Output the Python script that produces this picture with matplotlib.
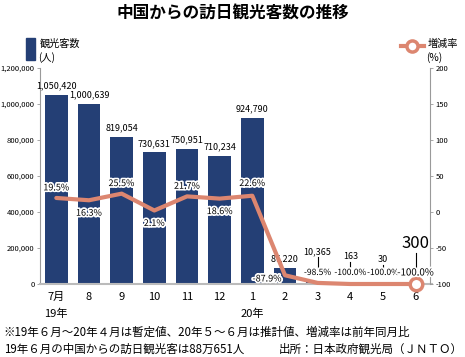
import matplotlib.pyplot as plt
from matplotlib import patheffects as pe

plt.rcParams['font.family'] = ['Noto Sans CJK JP', 'DejaVu Sans']

# データ
months = ['7月', '8', '9', '10', '11', '12', '1', '2', '3', '4', '5', '6']
visitors = [1050420, 1000639, 819054, 730631, 750951, 710234, 924790, 87220, 10365, 163, 30, 300]
rate = [19.5, 16.3, 25.5, 2.1, 21.7, 18.6, 22.6, -87.9, -98.5, -100.0, -100.0, -100.0]
rate_labels = ['19.5%', '16.3%', '25.5%', '2.1%', '21.7%', '18.6%', '22.6%',
               '-87.9%', '-98.5%', '-100.0%', '-100.0%', '-100.0%']
left_ticks = [0, 200000, 400000, 600000, 800000, 1000000, 1200000]
right_ticks = [-100, -50, 0, 50, 100, 150, 200]

navy = '#243f75'
salmon = '#dc8670'
gray = '#9a9a9a'
narrow = ['Liberation Sans Narrow', 'Noto Sans CJK JP', 'DejaVu Sans']

fig = plt.figure(figsize=(4.65, 3.57), dpi=100)
ax = fig.add_axes([0.086, 0.2045, 0.843, 0.605])
ax2 = ax.twinx()
ax2.spines['right'].set_position(('axes', 0.995))

x = list(range(len(months)))
ax.bar(x, visitors, width=0.7, color=navy, zorder=2)
ax.set_xlim(-0.5, 11.5)
ax.set_ylim(0, 1200000)
ax.set_yticks(left_ticks)
ax.set_yticklabels([f'{v:,}' for v in left_ticks], fontsize=5.5, family=narrow)
ax.set_xticks(x)
ax.set_xticklabels(months, fontsize=8)
ax.tick_params(axis='x', length=0, pad=6)
ax.tick_params(axis='y', length=2, width=0.6, color=gray, pad=2)
for s in ['top', 'right']:
    ax.spines[s].set_visible(False)
ax.spines['left'].set_color(gray)
ax.spines['bottom'].set_color('#bbbbbb')
ax.spines['bottom'].set_linewidth(1.5)

ax2.set_ylim(-100, 200)
ax2.set_yticks(right_ticks)
ax2.set_yticklabels([str(v) for v in right_ticks], fontsize=5.5, family=narrow)
ax2.tick_params(axis='y', length=2, width=0.6, color=gray, pad=2)
for s in ['top', 'left', 'bottom']:
    ax2.spines[s].set_visible(False)
ax2.spines['right'].set_color(gray)

ax2.plot(x, rate, color=salmon, lw=3, zorder=3, clip_on=False, solid_capstyle='round')
ax2.plot(x[-1], rate[-1], 'o', ms=9, mfc='white', mec=salmon, mew=2.5, zorder=4, clip_on=False)

# 観光客数ラベル
for i in range(8):
    ax.text(x[i], visitors[i] + 25000, f'{visitors[i]:,}', ha='center', va='bottom',
            fontsize=6.5, family=narrow)
lead_top = [155000, 125000, 110000, 175000]
for k, i in enumerate(range(8, 12)):
    fs = 12 if i == 11 else 6.5
    ax.text(x[i], lead_top[k], f'{visitors[i]:,}', ha='center', va='bottom',
            fontsize=fs, family=narrow)
    ax.plot([x[i], x[i]], [lead_top[k] - 5000, 80000], color='black', lw=0.8, zorder=3)

# 増減率ラベル
stroke = [pe.withStroke(linewidth=2.5, foreground='white')]
offs = [14, -18, 14, -18, 14, -18, 17]
for i in range(7):
    ax2.text(x[i], rate[i] + offs[i], rate_labels[i], ha='center', va='center',
             fontsize=6.5, family=narrow, path_effects=stroke, zorder=5)
ax2.text(x[7] - 0.55, -93, rate_labels[7], ha='center', va='center',
         fontsize=6.5, family=narrow, path_effects=stroke, zorder=5)
for i in range(8, 12):
    ax2.text(x[i], -84, rate_labels[i], ha='center', va='center',
             fontsize=7 if i == 11 else 6.1, family=narrow, path_effects=stroke, zorder=5)

# 年ラベル
ax.text(0, -0.14, '19年', transform=ax.get_xaxis_transform(), ha='center', va='center', fontsize=8)
ax.text(6, -0.14, '20年', transform=ax.get_xaxis_transform(), ha='center', va='center', fontsize=8)

# タイトル・凡例
fig.text(0.5, 0.962, '中国からの訪日観光客数の推移', ha='center', va='center',
         fontsize=12, fontweight='bold')
fig.patches.append(plt.Rectangle((0.056, 0.832), 0.019, 0.062, transform=fig.transFigure,
                                 color=navy))
fig.text(0.085, 0.877, '観光客数', ha='left', va='center', fontsize=7.3)
fig.text(0.083, 0.840, '(人)', ha='left', va='center', fontsize=7.3)
fig.add_artist(plt.Line2D([0.862, 0.912], [0.872, 0.872], color=salmon, lw=3,
                          transform=fig.transFigure))
fig.add_artist(plt.Line2D([0.887], [0.872], marker='o', ms=8, mfc='white', mec=salmon,
                          mew=2.5, transform=fig.transFigure))
fig.text(0.920, 0.877, '増減率', ha='left', va='center', fontsize=7.3)
fig.text(0.916, 0.838, '(%)', ha='left', va='center', fontsize=7.3)

# 注記
fig.text(0.008, 0.068, '※19年６月～20年４月は暫定値、20年５～６月は推計値、増減率は前年同月比',
         ha='left', va='center', fontsize=8.3)
fig.text(0.008, 0.022, '19年６月の中国からの訪日観光客は88万651人',
         ha='left', va='center', fontsize=8.3)
fig.text(0.995, 0.022, '出所：日本政府観光局（ＪＮＴＯ）', ha='right', va='center', fontsize=8.3)

fig.savefig('out.png', dpi=100)
